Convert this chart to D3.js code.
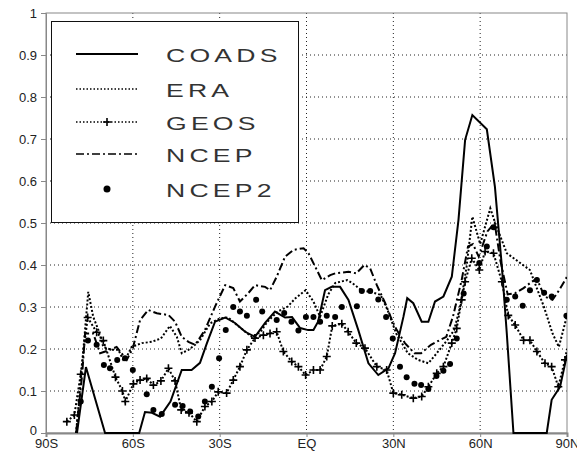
<!DOCTYPE html>
<html>
<head>
<meta charset="utf-8">
<script src="https://cdn.jsdelivr.net/npm/d3@7"></script>
<style>
  body { margin: 0; background: #fff; }
  svg text { font-family: "Liberation Sans", Arial, sans-serif; }
</style>
</head>
<body>
<div id="chart"></div>
<script>
// [latitude, value]
var coads = [[-79.3,0],[-76.2,0.157],[-69.6,0],[-57.8,0],[-55.8,0.05],[-53.4,0.048],[-50.6,0.039],[-47.0,0.075],
  [-43.1,0.15],[-39.7,0.15],[-36.8,0.167],[-34.4,0.214],[-31.6,0.265],[-28.1,0.275],[-24.7,0.262],[-21.2,0.241],
  [-17.8,0.229],[-14.3,0.262],[-10.9,0.289],[-7.4,0.275],[-5.0,0.276],[-2.2,0.25],[0.6,0.245],[2.4,0.245],[4.0,0.265],
  [6.4,0.34],[8.7,0.348],[11.6,0.348],[14.5,0.317],[17.9,0.245],[21.4,0.166],[24.8,0.138],[28.3,0.154],[30.6,0.19],
  [33.5,0.277],[34.8,0.321],[36.9,0.309],[39.8,0.265],[42.1,0.265],[44.4,0.313],[47.3,0.325],[50.2,0.372],[52.5,0.507],
  [54.8,0.698],[57.3,0.757],[62.3,0.723],[65.1,0.586],[67.5,0.396],[69.2,0.237],[71.5,0],[83.0,0],[84.7,0.079],
  [87.6,0.11],[90,0.186]];

var era = [[-79.6,0],[-77.8,0.14],[-75.4,0.336],[-73.7,0.277],[-71.9,0.245],[-70.2,0.205],[-67.3,0.198],[-65.0,0.198],
  [-63.3,0.174],[-62.1,0.182],[-60.4,0.205],[-56.9,0.214],[-53.5,0.217],[-50.3,0.225],[-47.2,0.255],[-44.8,0.229],
  [-43.1,0.19],[-40.8,0.198],[-38.5,0.21],[-36.8,0.221],[-33.3,0.261],[-29.9,0.273],[-27.0,0.275],[-24.7,0.261],
  [-21.8,0.245],[-18.9,0.229],[-16.0,0.24],[-13.5,0.265],[-10.0,0.289],[-6.5,0.301],[-3.8,0.321],[-0.3,0.34],
  [2.4,0.313],[4.7,0.277],[7.5,0.33],[9.9,0.357],[14.0,0.364],[15.8,0.357],[19.0,0.34],[22.0,0.336],[25.6,0.329],
  [28.0,0.293],[31.0,0.237],[35.0,0.19],[38.6,0.174],[42.1,0.166],[45.0,0.19],[48.6,0.221],[51.0,0.245],[53.1,0.301],
  [55.3,0.396],[57.3,0.515],[60.0,0.45],[63.5,0.535],[65.2,0.5],[69.2,0.428],[74.0,0.404],[77.2,0.388],[82.0,0.301],
  [85.0,0.237],[87.2,0.205],[89.0,0.253],[90,0.28]];

var geos = [[-82.8,0.027],[-80.2,0.043],[-78.0,0.14],[-75.6,0.275],[-72.5,0.24],[-70.2,0.22],[-66.0,0.133],[-63.6,0.10],
  [-62.6,0.075],[-59.8,0.117],[-57.5,0.126],[-55.2,0.13],[-52.9,0.114],[-50.3,0.124],[-47.7,0.154],[-45.4,0.124],
  [-43.3,0.055],[-40.6,0.048],[-37.9,0.027],[-35.1,0.063],[-32.7,0.075],[-30.5,0.098],[-27.6,0.095],[-25.3,0.126],
  [-23.0,0.158],[-20.6,0.198],[-17.8,0.226],[-14.9,0.233],[-12.6,0.237],[-10.3,0.241],[-8.0,0.194],[-5.1,0.17],
  [-2.8,0.158],[-0.3,0.138],[2.4,0.15],[4.7,0.15],[7.0,0.182],[8.9,0.255],[12.2,0.26],[14.4,0.241],[17.2,0.214],
  [20.2,0.202],[24.3,0.158],[27.7,0.15],[30.0,0.095],[32.9,0.091],[36.9,0.083],[39.8,0.087],[42.1,0.11],[45.0,0.142],
  [47.3,0.158],[50.2,0.214],[51.9,0.249],[53.6,0.317],[54.8,0.36],[57.1,0.416],[59.7,0.388],[61.7,0.432],[64.6,0.428],
  [67.5,0.36],[69.7,0.28],[72.1,0.257],[75.0,0.221],[77.2,0.221],[79.6,0.194],[82.4,0.166],[84.7,0.158],[87.0,0.11],
  [89.3,0.174],[90,0.2]];

var ncep = [[-79.6,0],[-77.5,0.14],[-76.5,0.237],[-73.7,0.237],[-71.3,0.19],[-67.9,0.198],[-65.6,0.205],[-62.1,0.174],
  [-60.0,0.202],[-57.5,0.269],[-54.7,0.293],[-51.7,0.285],[-47.7,0.281],[-45.4,0.265],[-43.1,0.229],[-40.8,0.217],
  [-38.5,0.21],[-35.1,0.245],[-31.6,0.301],[-28.1,0.352],[-25.3,0.345],[-23.0,0.313],[-20.1,0.333],[-17.8,0.352],
  [-14.3,0.348],[-12.6,0.34],[-10.3,0.372],[-7.4,0.42],[-4.5,0.436],[-1.0,0.44],[0.7,0.428],[3.0,0.396],[5.3,0.364],
  [8.2,0.376],[9.9,0.38],[14.5,0.384],[17.2,0.38],[20.0,0.40],[22.0,0.392],[24.3,0.352],[27.2,0.309],[29.5,0.269],
  [31.2,0.245],[34.0,0.214],[37.3,0.19],[39.6,0.19],[43.0,0.21],[46.0,0.221],[48.3,0.229],[50.6,0.277],[53.6,0.364],
  [55.8,0.444],[57.5,0.45],[59.5,0.42],[62.5,0.48],[65.0,0.5],[67.0,0.41],[69.5,0.33],[72.1,0.333],[75.0,0.345],
  [77.8,0.36],[79.6,0.368],[80.8,0.348],[82.2,0.325],[85.0,0.317],[87.3,0.34],[90,0.372]];

var ncep2 = [[-78,0.075],[-75.5,0.22],[-72.5,0.21],[-70.0,0.162],[-67.9,0.154],[-65.4,0.174],[-62.7,0.178],[-60.0,0.15],
  [-55.2,0.092],[-52.9,0.055],[-50.0,0.045],[-45.4,0.067],[-42.8,0.064],[-40.2,0.051],[-37.4,0.039],[-35.1,0.075],
  [-32.7,0.11],[-30.2,0.178],[-27.9,0.245],[-25.3,0.30],[-23.0,0.289],[-20.6,0.279],[-17.4,0.317],[-15.3,0.289],
  [-10.3,0.269],[-7.7,0.286],[-5.2,0.265],[-2.8,0.244],[-0.2,0.276],[2.4,0.276],[4.7,0.265],[7.0,0.279],[9.9,0.276],
  [12.2,0.30],[17.4,0.302],[19.1,0.338],[22.0,0.338],[24.8,0.318],[27.5,0.276],[29.8,0.225],[32.3,0.158],[34.6,0.133],
  [37.3,0.117],[39.6,0.114],[42.1,0.105],[44.9,0.136],[47.3,0.148],[49.6,0.164],[51.9,0.225],[54.3,0.332],[59.7,0.405],
  [62.3,0.444],[64.6,0.49],[69.2,0.317],[72.1,0.325],[74.7,0.303],[77.2,0.34],[79.6,0.364],[82.1,0.334],[84.7,0.325],
  [89.8,0.279]];

var xTickVals = [-90, -60, -30, 0, 30, 60, 90];
var xTickLabels = ["90S", "60S", "30S", "EQ", "30N", "60N", "90N"];
var yTickVals = [0, 0.1, 0.2, 0.3, 0.4, 0.5, 0.6, 0.7, 0.8, 0.9, 1];
var legendNames = ["COADS", "ERA", "GEOS", "NCEP", "NCEP2"];

var svgWidth = 577, svgHeight = 455;
var margin = { top: 13, right: 10, bottom: 22, left: 46 },
    width = svgWidth - margin.left - margin.right,
    height = svgHeight - margin.top - margin.bottom;

var svg = d3.select("#chart").append("svg")
    .attr("width", svgWidth)
    .attr("height", svgHeight);

var g = svg.append("g")
    .attr("transform", "translate(" + margin.left + "," + margin.top + ")");

var x = d3.scaleLinear().domain([-90, 90]).range([0, width]);
var y = d3.scaleLinear().domain([0, 1]).range([height, 0]);

svg.append("defs").append("clipPath").attr("id", "clip")
    .append("rect").attr("width", width).attr("height", height + 1);

// grid
g.append("g").selectAll("line")
    .data(yTickVals.slice(1, -1))
    .enter().append("line")
    .attr("x1", 0).attr("x2", width)
    .attr("y1", d => y(d)).attr("y2", d => y(d))
    .attr("stroke", "#222").attr("stroke-width", 1)
    .attr("stroke-dasharray", "1,3");

g.append("g").selectAll("line")
    .data(xTickVals.slice(1, -1))
    .enter().append("line")
    .attr("y1", 0).attr("y2", height)
    .attr("x1", d => x(d)).attr("x2", d => x(d))
    .attr("stroke", "#222").attr("stroke-width", 1)
    .attr("stroke-dasharray", "1,3");

// frame
g.append("rect")
    .attr("width", width).attr("height", height)
    .attr("fill", "none").attr("stroke", "#888").attr("stroke-width", 1);

// axes
var yAxis = g.append("g")
    .call(d3.axisLeft(y).tickValues(yTickVals).tickSize(5).tickPadding(4)
        .tickFormat(d => d === 0 ? "0" : d === 1 ? "1" : d3.format(".1f")(d)));
yAxis.select(".domain").attr("stroke", "#888");
yAxis.selectAll(".tick line").attr("stroke", "#888");
yAxis.selectAll(".tick text").attr("font-size", 13).attr("fill", "#222")
    .style("font-family", "Liberation Sans, Arial, sans-serif");
yAxis.selectAll(".tick").filter(d => d === 0).select("text").attr("dy", "0.1em");

var xAxis = g.append("g")
    .attr("transform", "translate(0," + height + ")")
    .call(d3.axisBottom(x).tickValues(xTickVals).tickSize(4).tickPadding(2)
        .tickFormat((d, i) => xTickLabels[i]));
xAxis.select(".domain").attr("stroke", "#888").attr("stroke-width", 2);
xAxis.selectAll(".tick line").attr("stroke", "#888");
xAxis.selectAll(".tick text").attr("font-size", 13).attr("fill", "#222")
    .style("font-family", "Liberation Sans, Arial, sans-serif");

// series
var line = d3.line().x(d => x(d[0])).y(d => y(d[1]));
var plot = g.append("g").attr("clip-path", "url(#clip)");

var styles = {
    COADS: { width: 2, dash: null },
    ERA: { width: 2, dash: "2,2" },
    GEOS: { width: 2, dash: "2,2" },
    NCEP: { width: 2, dash: "8,3,2,3" }
};

plot.append("path").datum(coads).attr("d", line)
    .attr("fill", "none").attr("stroke", "#000").attr("stroke-width", styles.COADS.width);
plot.append("path").datum(era).attr("d", line)
    .attr("fill", "none").attr("stroke", "#000").attr("stroke-width", styles.ERA.width)
    .attr("stroke-dasharray", styles.ERA.dash);
plot.append("path").datum(geos).attr("d", line)
    .attr("fill", "none").attr("stroke", "#000").attr("stroke-width", styles.GEOS.width)
    .attr("stroke-dasharray", styles.GEOS.dash);
plot.append("path").datum(ncep).attr("d", line)
    .attr("fill", "none").attr("stroke", "#000").attr("stroke-width", styles.NCEP.width)
    .attr("stroke-dasharray", styles.NCEP.dash);

function plusPath(cx, cy, s) {
    return "M" + (cx - s) + "," + cy + "H" + (cx + s) + "M" + cx + "," + (cy - s) + "V" + (cy + s);
}
plot.selectAll(".geos-mark")
    .data(geos.filter(d => d[1] > 0.01 && d[0] > -89.5 && d[0] < 89.5))
    .enter().append("path")
    .attr("class", "geos-mark")
    .attr("d", d => plusPath(x(d[0]), y(d[1]), 4))
    .attr("stroke", "#000").attr("stroke-width", 1.6);

plot.selectAll(".ncep2-dot")
    .data(ncep2)
    .enter().append("circle")
    .attr("class", "ncep2-dot")
    .attr("cx", d => x(d[0])).attr("cy", d => y(d[1]))
    .attr("r", 3).attr("fill", "#000");

// legend
var legend = svg.append("g");
legend.append("rect")
    .attr("x", 51.5).attr("y", 21.5).attr("width", 247).attr("height", 201)
    .attr("fill", "#fff").attr("stroke", "#111").attr("stroke-width", 1);

var legendY = [54, 89, 122, 154, 189];
legendNames.forEach(function (name, i) {
    var ly = legendY[i];
    if (name === "NCEP2") {
        legend.append("circle").attr("cx", 107).attr("cy", ly).attr("r", 3.5).attr("fill", "#000");
    } else {
        legend.append("line")
            .attr("x1", 76).attr("x2", 138).attr("y1", ly).attr("y2", ly)
            .attr("stroke", "#000").attr("stroke-width", name === "COADS" ? 2 : 1.6)
            .attr("stroke-dasharray", name === "ERA" || name === "GEOS" ? "1.5,2" : styles[name].dash);
        if (name === "GEOS") {
            legend.append("path").attr("d", plusPath(107, ly, 4))
                .attr("stroke", "#000").attr("stroke-width", 1.6);
        }
    }
    // wide, spaced lettering as in the original plot
    legend.append("text")
        .attr("transform", "translate(166," + (ly + 8) + ") scale(1.4,1)")
        .attr("font-size", 19)
        .attr("letter-spacing", 3)
        .attr("fill", "#333")
        .text(name);
});
</script>
</body>
</html>
